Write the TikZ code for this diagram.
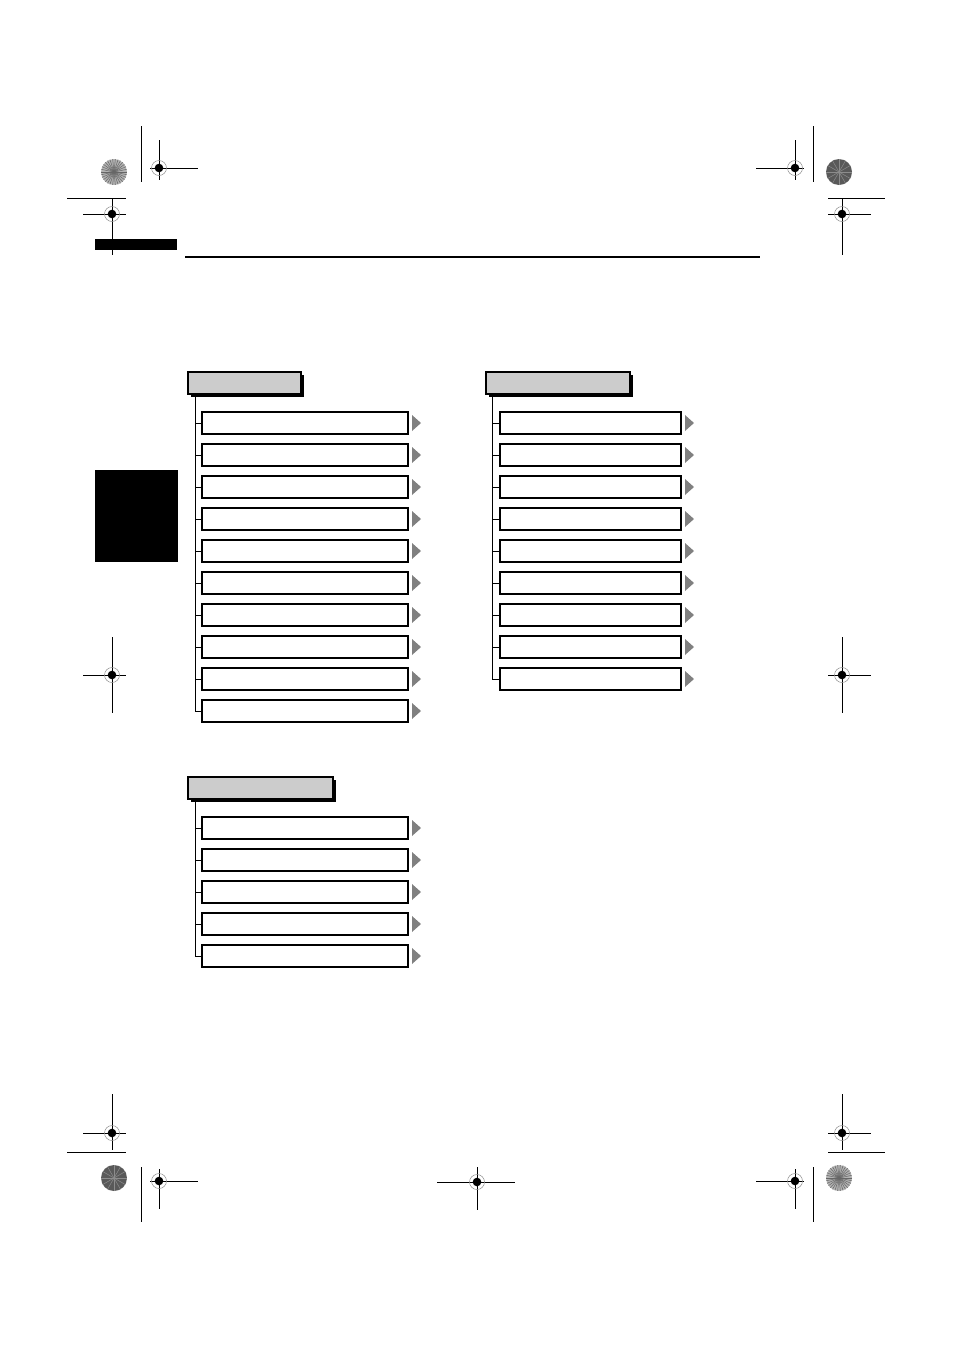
\documentclass[tikz,border=0pt]{standalone}
\usetikzlibrary{positioning}
\usetikzlibrary{shadows}
\tikzset{hdr/.style={draw,line width=1.2pt,fill=black!20,minimum height=22pt,inner sep=0pt,outer sep=0pt,
    drop shadow={shadow xshift=3pt,shadow yshift=-3pt,fill=black,opacity=1}}}
\tikzset{itemL/.style={draw,line width=1.1pt,fill=white,minimum width=206pt,minimum height=22pt,inner sep=0pt,outer sep=0pt}}
\tikzset{itemR/.style={itemL,minimum width=181pt}}
\tikzset{trunk/.style={line width=1pt}}
\tikzset{tri/.style={fill=black!50}}
\tikzset{crop/.style={line width=0.8pt}}
\tikzset{target/.pic={\draw[black!45,line width=0.5pt] (0,0) circle (7.5pt); \fill (0,0) circle (4.3pt);}}

\begin{document}
\begin{tikzpicture}[x=1pt,y=-1pt]
    \useasboundingbox (0,0) rectangle (954,1350);

    % page furniture
    \fill (95,239) rectangle (177,250);
    \fill (95,470) rectangle (178,562);
    \draw[line width=2pt] (185,257) -- (760,257);

    % first menu
    \node[hdr, minimum width=113pt, anchor=north west] (menuA) at (188,372) {};
    \node[itemL, anchor=west] (a1) at (202,423) {};
    \node[itemL, below=10pt of a1] (a2) {};
    \node[itemL, below=10pt of a2] (a3) {};
    \node[itemL, below=10pt of a3] (a4) {};
    \node[itemL, below=10pt of a4] (a5) {};
    \node[itemL, below=10pt of a5] (a6) {};
    \node[itemL, below=10pt of a6] (a7) {};
    \node[itemL, below=10pt of a7] (a8) {};
    \node[itemL, below=10pt of a8] (a9) {};
    \node[itemL, below=10pt of a9] (a10) {};
    \draw[trunk] ([xshift=7pt]menuA.south west) |- (a10.west);

    % second menu
    \node[hdr, minimum width=144pt, anchor=north west] (menuB) at (486,372) {};
    \node[itemR, anchor=west] (b1) at (500,423) {};
    \node[itemR, below=10pt of b1] (b2) {};
    \node[itemR, below=10pt of b2] (b3) {};
    \node[itemR, below=10pt of b3] (b4) {};
    \node[itemR, below=10pt of b4] (b5) {};
    \node[itemR, below=10pt of b5] (b6) {};
    \node[itemR, below=10pt of b6] (b7) {};
    \node[itemR, below=10pt of b7] (b8) {};
    \node[itemR, below=10pt of b8] (b9) {};
    \draw[trunk] ([xshift=6pt]menuB.south west) |- (b9.west);

    % third menu
    \node[hdr, minimum width=145pt, anchor=north west] (menuC) at (188,777) {};
    \node[itemL, anchor=west] (c1) at (202,828) {};
    \node[itemL, below=10pt of c1] (c2) {};
    \node[itemL, below=10pt of c2] (c3) {};
    \node[itemL, below=10pt of c3] (c4) {};
    \node[itemL, below=10pt of c4] (c5) {};
    \draw[trunk] ([xshift=7pt]menuC.south west) |- (c5.west);

    \foreach \n in {a1,a2,a3,a4,a5,a6,a7,a8,a9,a10,b1,b2,b3,b4,b5,b6,b7,b8,b9,c1,c2,c3,c4,c5} {
        \draw[trunk] (\n.west) -- ++(-7pt,0pt);
        \draw[line width=2.2pt] (\n.south west) -- (\n.north west);
        \fill[tri] ([xshift=4pt,yshift=8pt]\n.east) -- ++(9pt,-8pt) -- ++(-9pt,-8pt) -- cycle;
    }

    % colour wheels
    \fill[black!30] (114,172) circle (13pt);
    \foreach \a in {0,12,...,348} \draw[black!60,line width=0.5pt] (114,172) -- ++(\a:13pt);
    \fill[black!30] (839,1178) circle (13pt);
    \foreach \a in {0,12,...,348} \draw[black!60,line width=0.5pt] (839,1178) -- ++(\a:13pt);
    \fill[black!65] (839,172) circle (13pt);
    \foreach \a in {0,30,...,330} \draw[black!45,line width=0.5pt] (839,172) -- ++(\a:13pt);
    \fill[black!65] (114,1178) circle (13pt);
    \foreach \a in {0,30,...,330} \draw[black!45,line width=0.5pt] (114,1178) -- ++(\a:13pt);

    % crop marks
    \draw[crop] (141,126) -- (141,182);
    \draw[crop] (67,198) -- (126,198);
    \draw[crop] (813,126) -- (813,182);
    \draw[crop] (828,198) -- (885,198);
    \draw[crop] (67,1152) -- (126,1152);
    \draw[crop] (141,1167) -- (141,1222);
    \draw[crop] (813,1167) -- (813,1222);
    \draw[crop] (828,1152) -- (885,1152);

    % registration targets
    \draw[crop] (150,168) -- (198,168) (159,140) -- (159,180);
    \pic at (159,168) {target};
    \draw[crop] (83,214) -- (126,214) (112,198) -- (112,255);
    \pic at (112,214) {target};
    \draw[crop] (756,168) -- (804,168) (795,140) -- (795,180);
    \pic at (795,168) {target};
    \draw[crop] (828,214) -- (871,214) (842,198) -- (842,255);
    \pic at (842,214) {target};
    \draw[crop] (83,675) -- (126,675) (112,637) -- (112,713);
    \pic at (112,675) {target};
    \draw[crop] (828,675) -- (871,675) (842,637) -- (842,713);
    \pic at (842,675) {target};
    \draw[crop] (83,1133) -- (126,1133) (112,1094) -- (112,1150);
    \pic at (112,1133) {target};
    \draw[crop] (150,1181) -- (198,1181) (159,1169) -- (159,1209);
    \pic at (159,1181) {target};
    \draw[crop] (437,1182) -- (515,1182) (477,1167) -- (477,1210);
    \pic at (477,1182) {target};
    \draw[crop] (756,1181) -- (804,1181) (795,1169) -- (795,1209);
    \pic at (795,1181) {target};
    \draw[crop] (828,1133) -- (871,1133) (842,1094) -- (842,1150);
    \pic at (842,1133) {target};
\end{tikzpicture}
\end{document}
